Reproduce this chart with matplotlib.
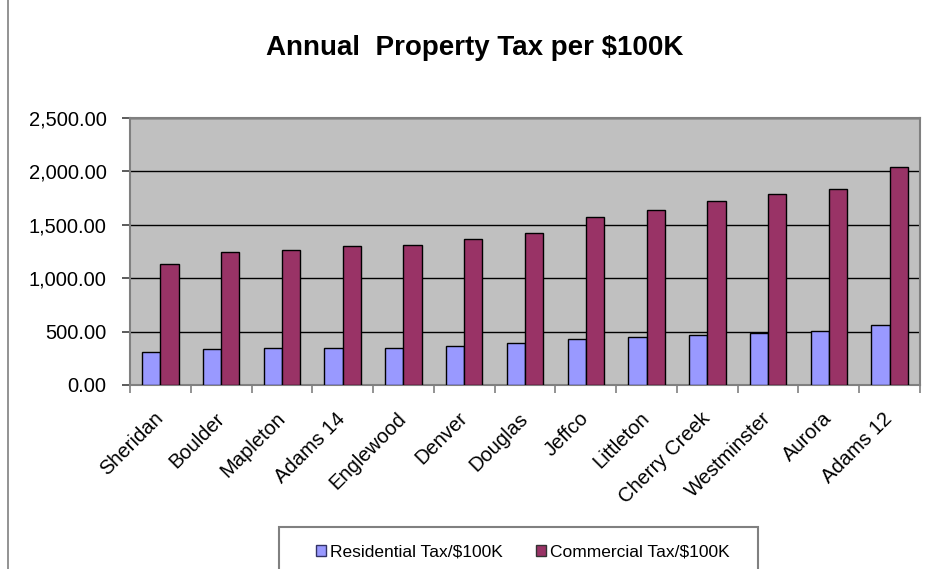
import numpy as np
import matplotlib
matplotlib.use("Agg")
import matplotlib.pyplot as plt
from matplotlib.patches import Patch, Rectangle
from matplotlib.lines import Line2D
from matplotlib.ticker import FuncFormatter, MultipleLocator

plt.rcParams['font.family'] = ['Liberation Sans', 'DejaVu Sans']

# tax per $100K of value, by district
districts = ["Sheridan", "Boulder", "Mapleton", "Adams 14", "Englewood", "Denver",
             "Douglas", "Jeffco", "Littleton", "Cherry Creek", "Westminster",
             "Aurora", "Adams 12"]
residential = [307, 337, 350, 350, 350, 369, 391, 431, 453, 469, 487, 509, 566]
commercial = [1131, 1250, 1268, 1300, 1312, 1366, 1419, 1575, 1638, 1719, 1788, 1838, 2044]

res_color = "#9999FF"
com_color = "#993366"

fig = plt.figure(figsize=(9.28, 5.69), dpi=100)
ax = fig.add_axes([130 / 928, 1 - 385 / 569, 790 / 928, 267 / 569])
ax.set_facecolor("#C0C0C0")

x = np.arange(len(districts))
w = 0.3
ax.bar(x - w / 2, residential, w, color=res_color, edgecolor="black", linewidth=1.0, zorder=3)
ax.bar(x + w / 2, commercial, w, color=com_color, edgecolor="black", linewidth=1.0, zorder=3)

ax.set_xlim(-0.5, len(districts) - 0.5)
ax.set_ylim(0, 2500)
ax.yaxis.set_major_locator(MultipleLocator(500))
ax.yaxis.set_major_formatter(FuncFormatter(lambda v, p: f"{v:,.2f}"))
ax.grid(axis="y", color="black", linewidth=1.0, zorder=1)
ax.set_axisbelow(True)

for s in ax.spines.values():
    s.set_color("#808080")
    s.set_linewidth(1.5)

ax.tick_params(axis="y", direction="out", length=6, width=1.2, color="#404040",
               labelsize=14.5, pad=11)
ax.set_xticks(x)
ax.set_xticklabels(districts, rotation=45, ha="right", va="center",
                   rotation_mode="anchor", fontsize=14.5)
ax.tick_params(axis="x", length=0, pad=22)
ax.set_xticks(np.arange(len(districts) + 1) - 0.5, minor=True)
ax.tick_params(axis="x", which="minor", direction="out", length=6, width=1.2, color="#808080")

fig.suptitle("Annual  Property Tax per $100K", x=(263 + 687) / 2 / 928, y=1 - 35 / 569,
             fontsize=20, fontweight="bold", va="top")

# legend box runs off the bottom edge
fig.patches.append(Rectangle((279 / 928, -0.05), (758 - 279) / 928, 0.05 + (569 - 527) / 569,
                             transform=fig.transFigure, fill=False,
                             edgecolor="#808080", linewidth=1.5))
handles = [Patch(facecolor=res_color, edgecolor="#333366", linewidth=1.0),
           Patch(facecolor=com_color, edgecolor="#333333", linewidth=1.0)]
fig.legend(handles, ["Residential Tax/$100K", "Commercial Tax/$100K"],
           loc="center", bbox_to_anchor=(523 / 928, 1 - 552 / 569), ncol=2,
           frameon=False, fontsize=12.5, handlelength=0.55, handleheight=0.55,
           handletextpad=0.25, columnspacing=1.9)

# thin border on the left side of the sheet
fig.lines.append(Line2D([8 / 928, 8 / 928], [0, 1], transform=fig.transFigure,
                        color="#808080", linewidth=1.2))

fig.savefig("out.png", dpi=100)
